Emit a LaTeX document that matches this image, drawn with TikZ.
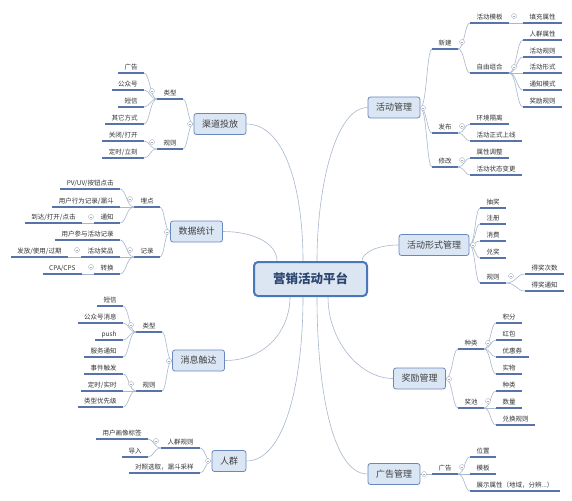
\documentclass[tikz,border=0pt]{standalone}
\usepackage{fontspec}
\setmainfont{Noto Sans CJK SC}
\usetikzlibrary{calc}
\definecolor{lkc}{RGB}{168,184,206}
\definecolor{ulc}{RGB}{86,116,170}
\definecolor{mtf}{RGB}{219,230,244}
\definecolor{mtb}{RGB}{104,136,188}
\definecolor{cf}{RGB}{220,230,243}
\definecolor{cb}{RGB}{74,118,188}
\definecolor{ctx}{RGB}{42,70,110}
\definecolor{foldc}{RGB}{165,175,190}
\tikzset{
  lk/.style={draw=lkc, line width=0.6pt},
  br/.style={to path={let \p1=(\tikztostart), \p2=(\tikztotarget), \n1={0.45*\x1+0.55*\x2} in .. controls (\n1,\y1) and (\n1,\y2) .. (\tikztotarget)}},
  ulline/.style={draw=ulc, line width=1.3pt},
  lf/.style={font=\fontsize{6.5}{7}\selectfont, text=black!80, inner xsep=6.5pt, inner ysep=2.3pt, text height=5.2pt, text depth=0.9pt, outer sep=0pt,
    append after command={(\tikzlastnode.south west) edge[ulline] (\tikzlastnode.south east)}},
  L/.style={lf, anchor=south east},
  R/.style={lf, anchor=south west},
  mt/.style={draw=mtb, fill=mtf, rounded corners=2.5pt, line width=0.8pt, font=\fontsize{9}{10}\selectfont, text=black!75, minimum height=21pt, inner xsep=8pt},
  ctr/.style={draw=cb, fill=cf, line width=2pt, rounded corners=4pt, font=\bfseries\fontsize{12.5}{14}\selectfont, text=ctx, minimum width=113pt, minimum height=34pt},
  fold/.style={circle, draw=foldc, line width=0.4pt, fill=white, minimum size=5pt, inner sep=0pt,
    path picture={\draw[foldc, line width=0.4pt] ([xshift=-1.4pt]path picture bounding box.center) -- ([xshift=1.4pt]path picture bounding box.center);}},
}
\begin{document}
\begin{tikzpicture}[x=1pt, y=-1pt]
\useasboundingbox (0,0) rectangle (572,500);
\fill[white] (0,0) rectangle (572,500);

% center
\node[ctr] (c) at (310.5,279) {营销活动平台};

% ---------- left: 渠道投放
\node[mt] (qd) at (220,124) {渠道投放};
\node[L] (qd1) at (183,99) {类型};
\node[L] (qd2) at (183,149) {规则};
\node[L] (qd11) at (144,73) {广告};
\node[L] (qd12) at (144,90) {公众号};
\node[L] (qd13) at (144,107) {短信};
\node[L] (qd14) at (144,124) {其它方式};
\node[L] (qd21) at (144,141) {关闭/打开};
\node[L] (qd22) at (144,158) {定时/立刻};

% ---------- left: 数据统计
\node[mt] (sj) at (196.5,231.5) {数据统计};
\node[L] (sj1) at (160,207) {埋点};
\node[L] (sj2) at (160,257) {记录};
\node[L] (sj11) at (120,189) {PV/UV/按钮点击};
\node[L] (sj12) at (120,207) {用户行为记录/漏斗};
\node[L] (sj13) at (120,223) {通知};
\node[L] (sj131) at (82,223) {到达/打开/点击};
\node[L] (sj21) at (120,240) {用户参与活动记录};
\node[L] (sj22) at (120,257) {活动奖品};
\node[L] (sj23) at (120,274) {转换};
\node[L] (sj221) at (68,257) {发放/使用/过期};
\node[L] (sj231) at (82,274) {CPA/CPS};

% ---------- left: 消息触达
\node[mt] (xx) at (198.5,360.5) {消息触达};
\node[L] (xx1) at (162,332) {类型};
\node[L] (xx2) at (162,391) {规则};
\node[L] (xx11) at (123,306) {短信};
\node[L] (xx12) at (123,323) {公众号消息};
\node[L] (xx13) at (123,340) {push};
\node[L] (xx14) at (123,357) {服务通知};
\node[L] (xx21) at (123,374) {事件触发};
\node[L] (xx22) at (123,391) {定时/实时};
\node[L] (xx23) at (123,407) {类型优先级};

% ---------- left: 人群
\node[mt] (rq) at (229,461) {人群};
\node[L] (rq1) at (200,448) {人群规则};
\node[L] (rq2) at (200,473) {对照选取，漏斗采样};
\node[L] (rq11) at (148,439) {用户画像标签};
\node[L] (rq12) at (148,457) {导入};

% ---------- right: 活动管理
\node[mt] (hd) at (394,107.5) {活动管理};
\node[R] (hd1) at (432,49) {新建};
\node[R] (hd2) at (432,133) {发布};
\node[R] (hd3) at (432,167) {修改};
\node[R] (hd11) at (470,23) {活动模板};
\node[R] (hd12) at (470,73) {自由组合};
\node[R] (hd111) at (523,23) {填充属性};
\node[R] (hd121) at (523,40) {人群属性};
\node[R] (hd122) at (523,57) {活动规则};
\node[R] (hd123) at (523,73) {活动形式};
\node[R] (hd124) at (523,90) {通知模式};
\node[R] (hd125) at (523,107) {奖励规则};
\node[R] (hd21) at (470,124) {环境隔离};
\node[R] (hd22) at (470,141) {活动正式上线};
\node[R] (hd31) at (470,158) {属性调整};
\node[R] (hd32) at (470,175) {活动状态变更};

% ---------- right: 活动形式管理
\node[mt] (xs) at (434,245) {活动形式管理};
\node[R] (xs1) at (480,208) {抽奖};
\node[R] (xs2) at (480,224) {注册};
\node[R] (xs3) at (480,241) {消费};
\node[R] (xs4) at (480,258) {兑奖};
\node[R] (xs5) at (480,283) {规则};
\node[R] (xs51) at (525,274) {得奖次数};
\node[R] (xs52) at (525,291) {得奖通知};

% ---------- right: 奖励管理
\node[mt] (jl) at (419.5,378.5) {奖励管理};
\node[R] (jl1) at (458,349) {种类};
\node[R] (jl2) at (458,408) {奖池};
\node[R] (jl11) at (496,323) {积分};
\node[R] (jl12) at (496,340) {红包};
\node[R] (jl13) at (496,357) {优惠券};
\node[R] (jl14) at (496,374) {实物};
\node[R] (jl21) at (496,391) {种类};
\node[R] (jl22) at (496,408) {数量};
\node[R] (jl23) at (496,425) {兑换规则};

% ---------- right: 广告管理
\node[mt] (gg) at (394,474) {广告管理};
\node[R] (gg1) at (432,474) {广告};
\node[R] (gg11) at (470,457) {位置};
\node[R] (gg12) at (470,474) {模板};
\node[R] (gg13) at (470,491) {展示属性（地域，分辨...）};

% ---------- center connectors
\draw[lk] (sj.east) .. controls +(30,0) and +(0,-18) .. ([xshift=24pt]c.north west);
\draw[lk] (qd.east) .. controls +(39,0) and +(0,-71) .. ([xshift=50pt]c.north west);
\draw[lk] (hd.west) .. controls +(-33,0) and +(0,-71) .. ([xshift=64pt]c.north west);
\draw[lk] (xs.west) .. controls +(-22,0) and +(0,-8) .. ([xshift=109pt]c.north west);
\draw[lk] (xx.east) .. controls +(41,0) and +(0,33) .. ([xshift=37pt]c.south west);
\draw[lk] (rq.east) .. controls +(39,0) and +(0,83) .. ([xshift=50pt]c.south west);
\draw[lk] (gg.west) .. controls +(-35,0) and +(0,93) .. ([xshift=64pt]c.south west);
\draw[lk] (jl.west) .. controls +(-34,0) and +(0,43) .. ([xshift=75pt]c.south west);

% ---------- left branch connectors
\foreach \ch in {qd1,qd2} \draw[lk] (qd.west) to[br] (\ch.south east);
\foreach \ch in {qd11,qd12,qd13,qd14} \draw[lk] (qd1.south west) to[br] (\ch.south east);
\foreach \ch in {qd21,qd22} \draw[lk] (qd2.south west) to[br] (\ch.south east);

\foreach \ch in {sj1,sj2} \draw[lk] (sj.west) to[br] (\ch.south east);
\foreach \ch in {sj11,sj12,sj13} \draw[lk] (sj1.south west) to[br] (\ch.south east);
\foreach \ch in {sj21,sj22,sj23} \draw[lk] (sj2.south west) to[br] (\ch.south east);
\draw[lk] (sj13.south west) -- (sj131.south east);
\draw[lk] (sj22.south west) -- (sj221.south east);
\draw[lk] (sj23.south west) -- (sj231.south east);

\foreach \ch in {xx1,xx2} \draw[lk] (xx.west) to[br] (\ch.south east);
\foreach \ch in {xx11,xx12,xx13,xx14} \draw[lk] (xx1.south west) to[br] (\ch.south east);
\foreach \ch in {xx21,xx22,xx23} \draw[lk] (xx2.south west) to[br] (\ch.south east);

\foreach \ch in {rq1,rq2} \draw[lk] (rq.west) to[br] (\ch.south east);
\foreach \ch in {rq11,rq12} \draw[lk] (rq1.south west) to[br] (\ch.south east);

% ---------- right branch connectors
\foreach \ch in {hd1,hd2,hd3} \draw[lk] (hd.east) to[br] (\ch.south west);
\foreach \ch in {hd11,hd12} \draw[lk] (hd1.south east) to[br] (\ch.south west);
\draw[lk] (hd11.south east) -- (hd111.south west);
\foreach \ch in {hd121,hd122,hd123,hd124,hd125} \draw[lk] (hd12.south east) to[br] (\ch.south west);
\foreach \ch in {hd21,hd22} \draw[lk] (hd2.south east) to[br] (\ch.south west);
\foreach \ch in {hd31,hd32} \draw[lk] (hd3.south east) to[br] (\ch.south west);

\foreach \ch in {xs1,xs2,xs3,xs4,xs5} \draw[lk] (xs.east) to[br] (\ch.south west);
\foreach \ch in {xs51,xs52} \draw[lk] (xs5.south east) to[br] (\ch.south west);

\foreach \ch in {jl1,jl2} \draw[lk] (jl.east) to[br] (\ch.south west);
\foreach \ch in {jl11,jl12,jl13,jl14} \draw[lk] (jl1.south east) to[br] (\ch.south west);
\foreach \ch in {jl21,jl22,jl23} \draw[lk] (jl2.south east) to[br] (\ch.south west);

\draw[lk] (gg.east) -- (gg1.south west);
\foreach \ch in {gg11,gg12,gg13} \draw[lk] (gg1.south east) to[br] (\ch.south west);

% ---------- fold markers
\node[fold] (f1) at (190,124) {};
\node[fold] (f2) at (152,91) {};
\node[fold] (f3) at (152,142) {};
\node[fold] (f4) at (167,232) {};
\node[fold] (f5) at (130,199) {};
\node[fold] (f6) at (130,250) {};
\node[fold] (f7) at (91,217) {};
\node[fold] (f8) at (77,250) {};
\node[fold] (f9) at (91,267) {};
\node[fold] (f10) at (169,361) {};
\node[fold] (f11) at (131,325) {};
\node[fold] (f12) at (131,384) {};
\node[fold] (f13) at (208,461) {};
\node[fold] (f14) at (156,441) {};
\node[fold] (f15) at (423,108) {};
\node[fold] (f16) at (462,42) {};
\node[fold] (f17) at (462,126) {};
\node[fold] (f18) at (462,160) {};
\node[fold] (f19) at (514,16) {};
\node[fold] (f20) at (514,67) {};
\node[fold] (f21) at (473,245) {};
\node[fold] (f22) at (511,276) {};
\node[fold] (f23) at (449,379) {};
\node[fold] (f24) at (488,343) {};
\node[fold] (f25) at (488,401) {};
\node[fold] (f26) at (424,474) {};
\node[fold] (f27) at (462,467) {};
\end{tikzpicture}
\end{document}
